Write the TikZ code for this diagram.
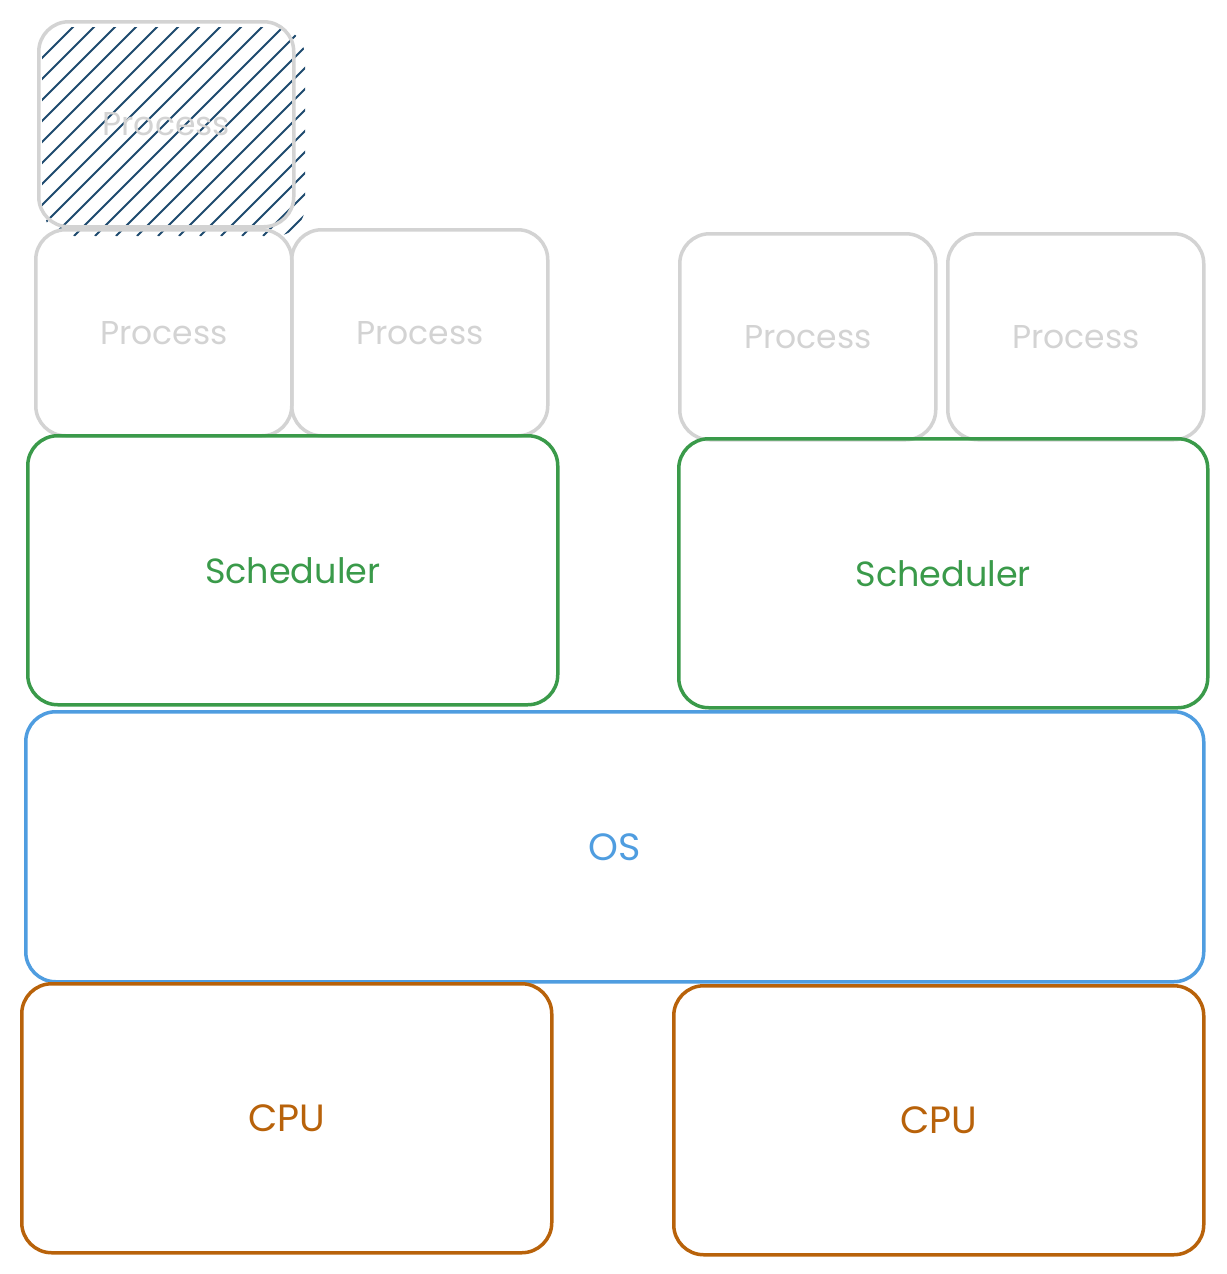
\documentclass[tikz,border=0pt]{standalone}
\usepackage{fontspec}
\setmainfont{Poppins}
\definecolor{procgrey}{HTML}{D3D3D3}
\definecolor{schedgreen}{HTML}{3A9A4A}
\definecolor{osblue}{HTML}{4F9DE0}
\definecolor{cpuorange}{HTML}{B8620A}
\definecolor{hatchnavy}{HTML}{1E4A6E}
\begin{document}
\begin{tikzpicture}[x=1pt,y=-1pt,
  boxbase/.style={draw, line width=3.5pt, rounded corners=30pt, inner sep=0pt, anchor=north west},
  procfont/.style={font=\fontsize{33}{36}\selectfont},
  procbox/.style={boxbase, draw=procgrey, text=procgrey, procfont},
  schedbox/.style={boxbase, draw=schedgreen, text=schedgreen, font=\fontsize{35}{40}\selectfont},
  osbox/.style={boxbase, draw=osblue, text=osblue, font=\fontsize{38}{42}\selectfont},
  cpubox/.style={boxbase, draw=cpuorange, text=cpuorange, font=\fontsize{38}{42}\selectfont},
  hatchline/.style={hatchnavy, line width=1.8pt}
]
\useasboundingbox (0,0) rectangle (1226,1274);
% hatching of the running process
\begin{scope}
  \clip[rounded corners=30pt] (42,27) rectangle (305,236);
  \foreach \k in {0,...,30} {
    \draw[hatchline] ({42+21*\k-220},236) -- ({42+21*\k},16);
  }
\end{scope}
\node[procbox, minimum width=255pt, minimum height=205pt] (p0) at (37,20) {};
\node[text=procgrey, procfont] (p0t) at (p0.center) {Process};
\node[procbox, minimum width=256pt, minimum height=206pt] (p1) at (34,228) {Process};
\node[procbox, minimum width=256pt, minimum height=206pt] (p2) at (290,228) {Process};
\node[procbox, minimum width=256pt, minimum height=206pt] (p3) at (678,232) {Process};
\node[procbox, minimum width=256pt, minimum height=206pt] (p4) at (946,232) {Process};
\node[schedbox, minimum width=530pt, minimum height=269pt] (s1) at (26,434) {Scheduler};
\node[schedbox, minimum width=529pt, minimum height=269pt] (s2) at (677,437) {Scheduler};
\node[osbox, minimum width=1178pt, minimum height=270pt] (os) at (24,710) {OS};
\node[cpubox, minimum width=530pt, minimum height=269pt] (c1) at (20,982) {CPU};
\node[cpubox, minimum width=530pt, minimum height=269pt] (c2) at (672,984) {CPU};
\end{tikzpicture}
\end{document}
